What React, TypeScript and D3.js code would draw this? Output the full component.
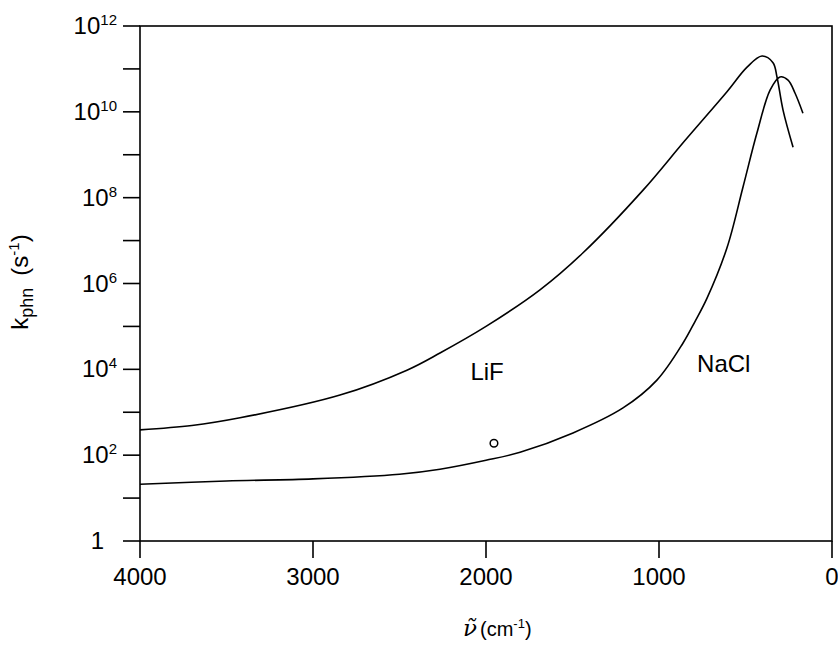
import React from "react";
import * as d3 from "d3";

// wavenumber (cm^-1) and k_phn (s^-1)
const lifWavenumber = [4000, 3700, 3422, 2844, 2457, 2266, 2000, 1688, 1439, 1092, 850, 607, 491, 405, 341, 318, 283, 225];
const lifK = [389, 490, 741, 2512, 9550, 2.4e4, 1.0e5, 7.1e5, 5.2e6, 1.5e8, 2.15e9, 2.95e10, 1.1e11, 2.0e11, 1.4e11, 6.5e10, 1.1e10, 1.5e9];

const naclWavenumber = [4000, 3500, 3000, 2500, 2266, 2000, 1803, 1497, 1208, 1012, 861, 792, 723, 607, 514, 434, 358, 301, 254, 214, 168];
const naclK = [21, 25, 28, 36, 47, 76, 117, 330, 1260, 5600, 4.1e4, 1.3e5, 4.5e5, 6.8e6, 1.8e8, 3.2e9, 3.2e10, 6.5e10, 5.5e10, 2.75e10, 9.3e9];

const markerWavenumber = [1954];
const markerK = [190];

const xTicks = [4000, 3000, 2000, 1000, 0];
const yExponents = [0, 1, 2, 3, 4, 5, 6, 7, 8, 9, 10, 11, 12];
const yLabelExponents = [0, 2, 4, 6, 8, 10, 12];

const curveLabels = [
  { text: "LiF", wn: 2090, k: 5.6e3 },
  { text: "NaCl", wn: 780, k: 8.7e3 },
];

const W = 838;
const H = 648;
const left = 140, right = 832, top = 26, bottom = 541;
const font = "'Liberation Sans', Arial, Helvetica, sans-serif";

export default function App() {
  const x = d3.scaleLinear().domain([4000, 0]).range([left, right]);
  const y = d3.scaleLog().domain([1, 1e12]).range([bottom, top]);
  const line = d3
    .line<[number, number]>()
    .x((d) => x(d[0]))
    .y((d) => y(d[1]))
    .curve(d3.curveCatmullRom.alpha(0.5));

  const lif = lifWavenumber.map((w, i) => [w, lifK[i]] as [number, number]);
  const nacl = naclWavenumber.map((w, i) => [w, naclK[i]] as [number, number]);
  const tick = 17;

  return (
    <svg
      width={W}
      height={H}
      style={{ position: "absolute", left: 0, top: 0, background: "#fff" }}
      fontFamily={font}
    >
      <rect x={0} y={0} width={W} height={H} fill="#fff" />
      {/* frame */}
      <rect
        x={left}
        y={top}
        width={right - left}
        height={bottom - top}
        fill="none"
        stroke="#000"
        strokeWidth={1.6}
      />
      {/* y ticks */}
      {yExponents.map((e) => (
        <line
          key={"yt" + e}
          x1={left - tick}
          x2={left}
          y1={y(Math.pow(10, e))}
          y2={y(Math.pow(10, e))}
          stroke="#000"
          strokeWidth={1.6}
        />
      ))}
      {yLabelExponents.map((e) =>
        e === 0 ? (
          <text key="yl0" x={104} y={y(1) + 8} fontSize={24} textAnchor="end" fill="#000">
            1
          </text>
        ) : (
          <text key={"yl" + e} x={117} y={y(Math.pow(10, e)) + 8} fontSize={24} textAnchor="end" fill="#000">
            10
            <tspan fontSize={15} dy={-9}>
              {e}
            </tspan>
          </text>
        )
      )}
      {/* x ticks */}
      {xTicks.map((t) => (
        <g key={"xt" + t}>
          <line x1={x(t)} x2={x(t)} y1={bottom} y2={bottom + tick} stroke="#000" strokeWidth={1.6} />
          <text x={x(t)} y={585} fontSize={24} textAnchor="middle" fill="#000">
            {t}
          </text>
        </g>
      ))}
      {/* curves */}
      <path d={line(lif) || ""} fill="none" stroke="#000" strokeWidth={1.6} />
      <path d={line(nacl) || ""} fill="none" stroke="#000" strokeWidth={1.6} />
      {markerWavenumber.map((w, i) => (
        <circle key={"m" + i} cx={x(w)} cy={y(markerK[i])} r={3.8} fill="none" stroke="#000" strokeWidth={1.5} />
      ))}
      {curveLabels.map((l) => (
        <text key={l.text} x={x(l.wn)} y={y(l.k)} fontSize={24} fill="#000">
          {l.text}
        </text>
      ))}
      {/* x axis title */}
      <text x={463} y={636} fontSize={23} fill="#000">
        <tspan fontFamily="'DejaVu Serif', 'Liberation Serif', serif" fontStyle="italic">{"\u03BD\u0303"}</tspan>
        <tspan dx={3} fontSize={20}>(cm</tspan>
        <tspan fontSize={13} dy={-8}>-1</tspan>
        <tspan fontSize={20} dy={8}>)</tspan>
      </text>
      {/* y axis title */}
      <text
        transform={`translate(28, ${282}) rotate(-90)`}
        textAnchor="middle"
        fontSize={24}
        fill="#000"
      >
        k
        <tspan fontSize={18} dy={5}>phn</tspan>
        <tspan dy={-5}>{"\u2002(s"}</tspan>
        <tspan fontSize={15} dy={-9}>-1</tspan>
        <tspan dy={9}>)</tspan>
      </text>
    </svg>
  );
}
